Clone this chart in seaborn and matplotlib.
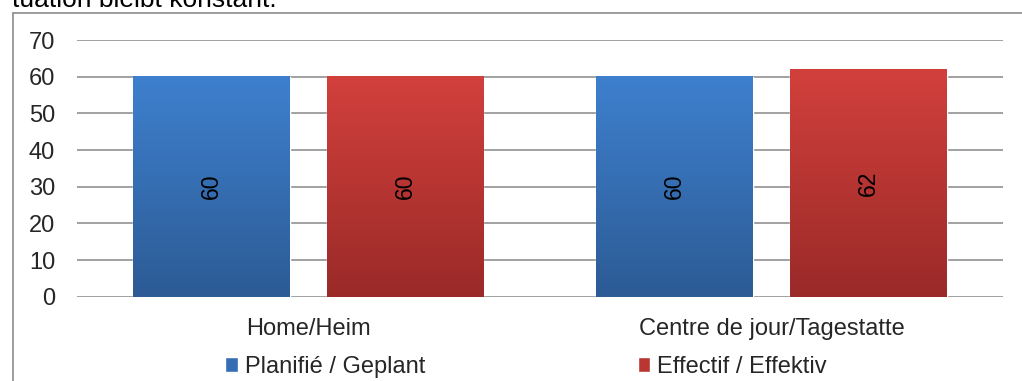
import numpy as np
import matplotlib
matplotlib.use("Agg")
import matplotlib.pyplot as plt
from matplotlib.colors import LinearSegmentedColormap
from matplotlib.lines import Line2D
import pandas as pd
import seaborn as sns

# chart values
categories = ["Home/Heim", "Centre de jour/Tagestatte"]
series_names = ["Planifié / Geplant", "Effectif / Effektiv"]
planned = [60, 60]
actual = [60, 62]
y_ticks = [0, 10, 20, 30, 40, 50, 60, 70]
caption = "tuation bleibt konstant."

# gradient colours (top, bottom) per series
grad_colors = {
    series_names[0]: ("#3e80ce", "#2c5b95"),
    series_names[1]: ("#d2403c", "#9a2a28"),
}
mid_colors = {
    series_names[0]: "#356eb4",
    series_names[1]: "#ba3633",
}

df = pd.DataFrame({
    "Category": categories * 2,
    "Series": [series_names[0]] * len(planned) + [series_names[1]] * len(actual),
    "Value": planned + actual,
})

sns.set_style("white")
plt.rcParams["font.family"] = ["Liberation Sans", "DejaVu Sans"]

fig = plt.figure(figsize=(10.22, 3.81), dpi=100)
ax = fig.add_axes([0.0750, 0.2213, 0.9064, 0.6737])

sns.barplot(
    data=df, x="Category", y="Value", hue="Series",
    palette=mid_colors, width=0.836, gap=0.191,
    order=categories, hue_order=series_names,
    saturation=1, errorbar=None, ax=ax, zorder=3,
)

# vertical gradient fill on each bar
for cont, name in zip(ax.containers, series_names):
    top, bottom = grad_colors[name]
    cmap = LinearSegmentedColormap.from_list(name, [bottom, top])
    grad = np.linspace(0, 1, 256).reshape(-1, 1)
    for bar in cont:
        x0, w, h = bar.get_x(), bar.get_width(), bar.get_height()
        ax.imshow(grad, extent=(x0, x0 + w, 0, h), origin="lower",
                  aspect="auto", cmap=cmap, zorder=3.5)
    ax.bar_label(cont, label_type="center", rotation=90, fontsize=16.5,
                 color="black", zorder=5)

ax.set_xlim(-0.5, 1.5)
ax.set_ylim(0, 70)
ax.set_yticks(y_ticks)
ax.yaxis.grid(True, color="#878787", linewidth=1.1, zorder=0)
ax.xaxis.grid(False)
for s in ax.spines.values():
    s.set_visible(False)
ax.tick_params(axis="y", length=0, pad=15.5, labelsize=17)
ax.tick_params(axis="x", length=0, pad=15, labelsize=17)
ax.set_xlabel("")
ax.set_ylabel("")

leg = ax.get_legend()
handles = leg.legend_handles
leg.remove()
fig.legend(handles, series_names, loc="center", bbox_to_anchor=(0.5147, 0.037),
           ncol=2, frameon=False, fontsize=17, handlelength=0.52,
           handleheight=0.55, handletextpad=0.3, columnspacing=9.0,
           borderpad=0, borderaxespad=0)

# outer frame of the embedded chart (cropped)
fx0 = 12.7 / 1022
fy0 = 1 - 12.7 / 381
fig.add_artist(Line2D([fx0, 1.0], [fy0, fy0], transform=fig.transFigure,
                      color="#8c8c8c", linewidth=1.2))
fig.add_artist(Line2D([fx0, fx0], [fy0, 0.0], transform=fig.transFigure,
                      color="#8c8c8c", linewidth=1.2))

# surrounding document text, cut at the top edge
fig.text(12 / 1022, 1 - 7 / 381, caption, fontsize=19, va="baseline",
         ha="left", color="black")

fig.savefig("out.png", dpi=100)
